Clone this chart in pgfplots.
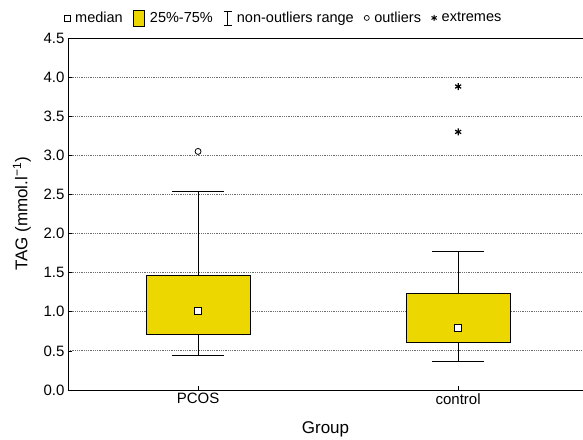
\documentclass[border=0pt]{standalone}
\usepackage{fontspec}
\setmainfont{Liberation Sans}
\usepackage{pgfplots}
\pgfplotsset{compat=1.18}
\usepgfplotslibrary{statistics}

\definecolor{boxyellow}{RGB}{236,216,0}
\definecolor{gridgray}{RGB}{110,110,110}

\begin{document}
\begin{tikzpicture}
\begin{axis}[
  at={(0,0)}, anchor=south west,
  scale only axis,
  width=515bp, height=352bp,
  xmin=0.5, xmax=2.48,
  ymin=0, ymax=4.5,
  axis lines*=left,
  axis line style={black, line width=0.9bp},
  tick align=inside,
  major tick length=4bp,
  tick style={black, line width=0.6bp},
  xtick={1,2},
  xticklabels={PCOS,control},
  ytick={0,0.5,1,1.5,2,2.5,3,3.5,4,4.5},
  yticklabel style={/pgf/number format/.cd, fixed, fixed zerofill, precision=1},
  /pgf/number format/assume math mode=true,
  ticklabel style={font=\fontsize{15bp}{17bp}\selectfont},
  ymajorgrids,
  y grid style={gridgray, dash pattern=on 1bp off 0.8bp, line width=0.8bp},
  xlabel={Group},
  ylabel={TAG (mmol.l\textsuperscript{−1})},
  label style={font=\fontsize{17bp}{19bp}\selectfont},
  xlabel style={at={(axis description cs:0.5,-0.111)}, anchor=center},
  ylabel style={at={(axis description cs:-0.0893,0.5)}, anchor=center},
  legend style={
    draw=none, fill=none,
    font=\fontsize{14.5bp}{17bp}\selectfont,
    legend columns=5,
    at={(axis description cs:0.419,1.057)}, anchor=center,
    /tikz/every odd column/.append style={column sep=3bp},
    /tikz/every even column/.append style={column sep=8.5bp},
  },
  boxplot/draw direction=y,
  boxplot/draw/median/.code={},
]

% legend symbols
\addlegendimage{only marks, mark=square*, mark size=3bp, mark options={draw=black, fill=white, line width=0.7bp}}
\addlegendentry{median}
\addlegendimage{legend image code/.code={\draw[black, fill=boxyellow, line width=0.7bp] (0bp,-8bp) rectangle (11bp,8bp);}}
\addlegendentry{25\%-75\%}
\addlegendimage{legend image code/.code={\draw[black, line width=0.6bp] (5bp,-7bp) -- (5bp,7bp) (1bp,-7bp) -- (9bp,-7bp) (1bp,7bp) -- (9bp,7bp);}}
\addlegendentry{non-outliers range}
\addlegendimage{only marks, mark=o, mark size=2.5bp, mark options={black, line width=0.7bp}}
\addlegendentry{outliers}
\addlegendimage{only marks, mark=asterisk, mark size=3bp, mark options={black, line width=1bp}}
\addlegendentry{extremes}

% PCOS
\addplot[forget plot, black, line width=0.8bp, fill=boxyellow,
  boxplot prepared={draw position=1, median=1.01,
    lower quartile=0.71, upper quartile=1.46,
    lower whisker=0.44, upper whisker=2.54,
    box extend=0.4, whisker extend=0.2}]
  coordinates {};
% control
\addplot[forget plot, black, line width=0.8bp, fill=boxyellow,
  boxplot prepared={draw position=2, median=0.79,
    lower quartile=0.61, upper quartile=1.24,
    lower whisker=0.37, upper whisker=1.77,
    box extend=0.4, whisker extend=0.2}]
  coordinates {};

% medians
\addplot[forget plot, only marks, mark=square*, mark size=3.5bp, mark options={draw=black, fill=white, line width=0.8bp}]
  coordinates {(1,1.01) (2,0.79)};
% outliers
\addplot[forget plot, only marks, mark=o, mark size=3bp, mark options={black, line width=0.8bp}]
  coordinates {(1,3.05)};
% extremes
\addplot[forget plot, only marks, mark=asterisk, mark size=3.5bp, mark options={black, line width=1.2bp}]
  coordinates {(2,3.88) (2,3.30)};

\draw[black, line width=0.9bp] (rel axis cs:0,1) -- (rel axis cs:1,1);
\end{axis}
\pgfresetboundingbox
\path[use as bounding box] (-68bp,-50bp) rectangle (515bp,390bp);
\end{tikzpicture}
\end{document}
